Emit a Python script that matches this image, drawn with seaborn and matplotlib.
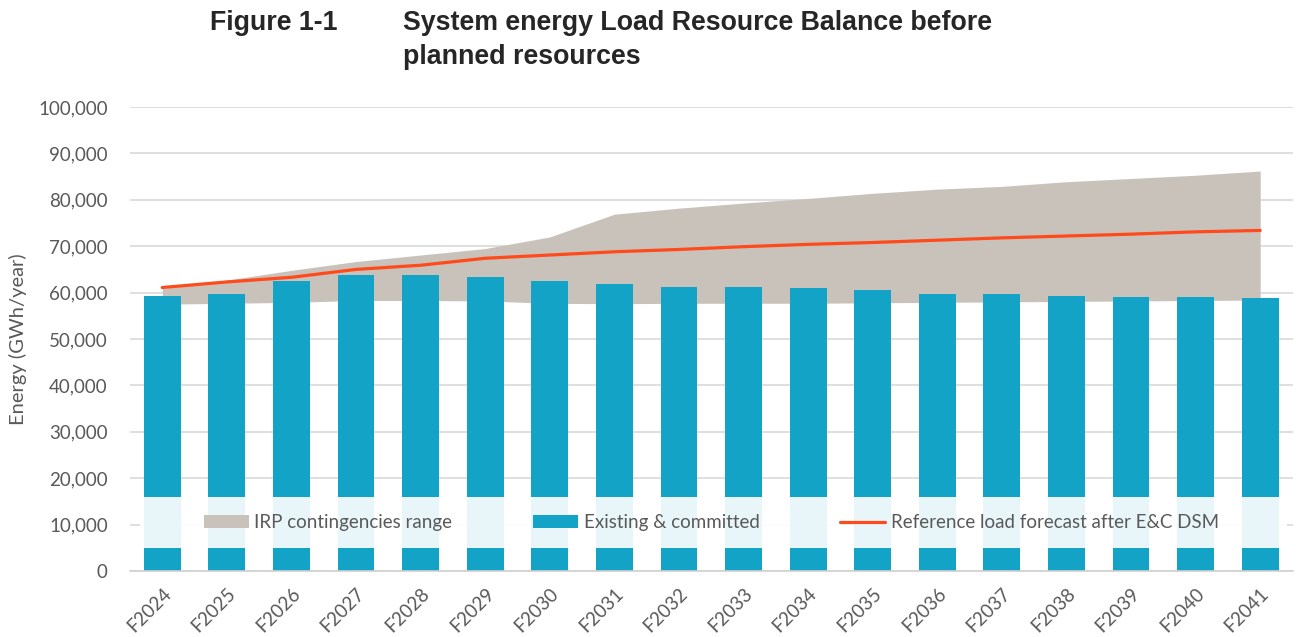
import seaborn as sns
import pandas as pd
import numpy as np
import matplotlib.pyplot as plt
from matplotlib.patches import Patch, Rectangle
from matplotlib.lines import Line2D

years = ["F2024", "F2025", "F2026", "F2027", "F2028", "F2029", "F2030", "F2031", "F2032",
         "F2033", "F2034", "F2035", "F2036", "F2037", "F2038", "F2039", "F2040", "F2041"]
existing = [59300, 59600, 62600, 63900, 63900, 63400, 62400, 61800, 61300,
            61300, 61100, 60600, 59800, 59600, 59300, 59100, 59100, 58900]
load_forecast = [61100, 62300, 63300, 65000, 65900, 67400, 68100, 68800, 69300,
                 69900, 70400, 70800, 71300, 71800, 72200, 72600, 73100, 73400]
range_high = [60900, 62700, 64800, 66700, 68100, 69500, 72000, 76900, 78200,
              79300, 80300, 81400, 82300, 82900, 83900, 84600, 85300, 86200]
range_low = [57500, 57700, 57900, 58300, 58300, 58200, 57700, 57600, 57700,
             57700, 57700, 57800, 57900, 58000, 58100, 58200, 58300, 58400]

df = pd.DataFrame({"year": years, "existing": existing, "load": load_forecast,
                   "high": range_high, "low": range_low})
df["pos"] = np.arange(len(df))

bar_color = "#12A3C7"
band_color = "#C9C2BB"
line_color = "#FF4A1C"
text_color = "#595959"

sns.set_style("white")
plt.rcParams["font.family"] = ["Lato", "DejaVu Sans"]

fig = plt.figure(figsize=(12.96, 6.37), dpi=100)
ax = fig.add_axes([0.1003, 0.1036, 0.897, 0.7284])

ax.fill_between(df["pos"], df["low"], df["high"], color=band_color, lw=0, zorder=1)
sns.barplot(data=df, x="year", y="existing", color=bar_color, width=0.57,
            saturation=1, linewidth=0, ax=ax, zorder=2)
sns.lineplot(data=df, x="pos", y="load", color=line_color, lw=2.3, ax=ax, zorder=3)

ax.set_xlim(-0.5, 17.5)
ax.set_ylim(0, 100000)
ax.set_yticks(np.arange(0, 100001, 10000))
ax.set_yticklabels([f"{v:,}" for v in range(0, 100001, 10000)], color=text_color, fontsize=13.5)
ax.set_xticks(df["pos"])
ax.set_xticklabels(years, rotation=45, ha="right", rotation_mode="anchor",
                   color=text_color, fontsize=13.5)
ax.tick_params(axis="y", length=0, pad=16)
ax.tick_params(axis="x", length=0, pad=10)
ax.set_xlabel("")
ax.set_ylabel("Energy (GWh/year)", color=text_color, fontsize=14.5, labelpad=8)
ax.yaxis.grid(True, color="#D9D9D9", lw=1.2, zorder=0)
ax.set_axisbelow(True)
for s in ["top", "right", "left"]:
    ax.spines[s].set_visible(False)
ax.spines["bottom"].set_color("#D0D0D0")
ax.spines["bottom"].set_linewidth(1.2)

# translucent legend band across the plot
ax.add_patch(Rectangle((0.0086, 0.0496), 0.987, 0.1094, transform=ax.transAxes,
                       facecolor="white", alpha=0.91, lw=0, zorder=4))
handles = [Patch(facecolor=band_color, edgecolor="none"),
           Patch(facecolor=bar_color, edgecolor="none"),
           Line2D([0], [0], color=line_color, lw=2.3)]
labels = ["IRP contingencies range", "Existing & committed",
          "Reference load forecast after E&C DSM"]
leg = ax.legend(handles, labels, ncol=3, loc="center", bbox_to_anchor=(0.5, 0.104),
                frameon=False, fontsize=13.5, columnspacing=4.3, handlelength=2.4,
                handleheight=0.7, handletextpad=0.3, labelcolor=text_color)
leg.set_zorder(5)

fig.text(0.162, 0.985, "Figure 1-1", fontsize=19.3, fontweight="bold",
         family="Liberation Sans", va="top")
fig.text(0.311, 0.985, "System energy Load Resource Balance before\nplanned resources",
         fontsize=19.3, fontweight="bold", family="Liberation Sans", va="top",
         linespacing=1.4)

fig.savefig("out.png", dpi=100)
